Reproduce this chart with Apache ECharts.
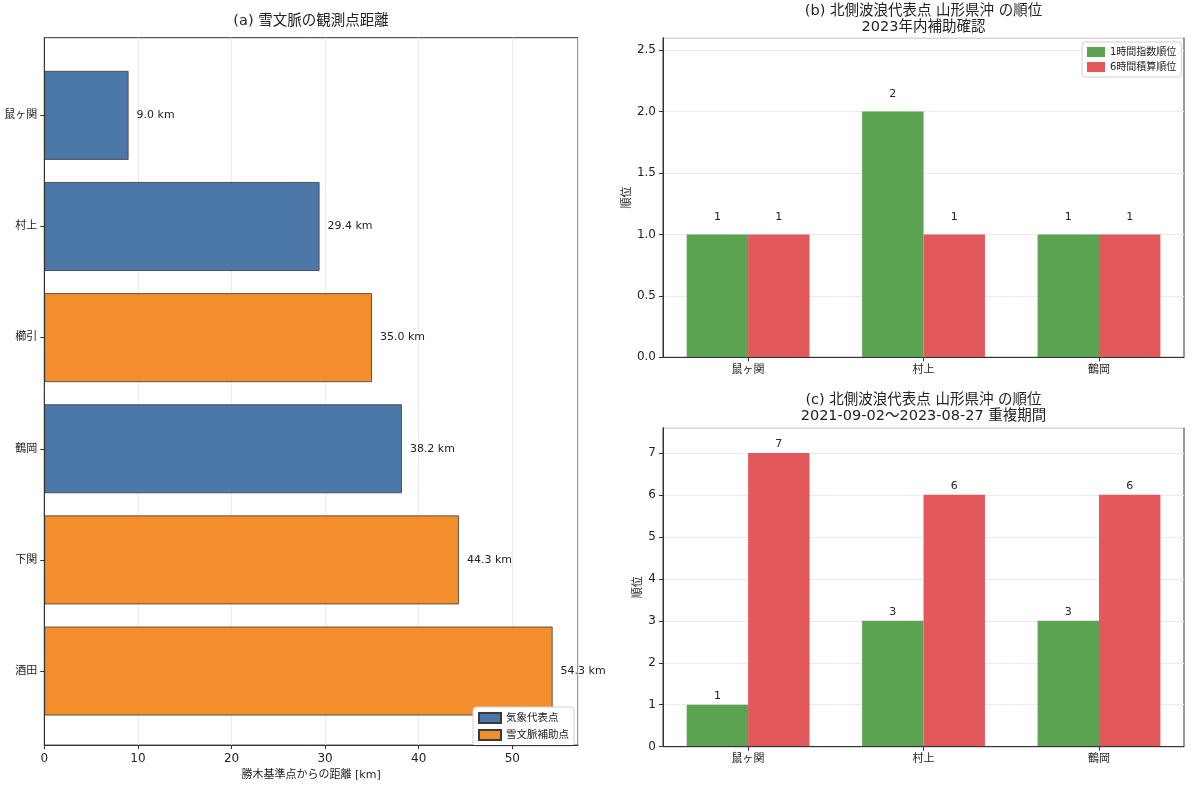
<!DOCTYPE html>
<html>
<head>
<meta charset="utf-8">
<script src="https://cdn.jsdelivr.net/npm/echarts@6/dist/echarts.min.js"></script>
<style>
  html, body { margin: 0; padding: 0; background: #fff; }
  #main { width: 1200px; height: 786px; }
</style>
</head>
<body>
<div id="main"></div>
<script>
// (a) 観測点距離
var stations = ['鼠ヶ関', '村上', '櫛引', '鶴岡', '下関', '酒田'];
var distances = [9.0, 29.4, 35.0, 38.2, 44.3, 54.3];
var stationType = ['気象代表点', '気象代表点', '雪文脈補助点', '気象代表点', '雪文脈補助点', '雪文脈補助点'];
var typeNames = ['気象代表点', '雪文脈補助点'];

// (b)(c) 順位
var rankStations = ['鼠ヶ関', '村上', '鶴岡'];
var rankNames = ['1時間指数順位', '6時間積算順位'];
var rank1hB = [1, 2, 1];
var rank6hB = [1, 1, 1];
var rank1hC = [1, 3, 3];
var rank6hC = [7, 6, 6];

var FONT = "'DejaVu Sans', 'Noto Sans CJK JP', sans-serif";
var AXIS = '#333';
var GRIDLINE = '#ebebeb';
var TEXT = '#222';
var typeColors = { '気象代表点': '#4c78a8', '雪文脈補助点': '#f28f2c' };
var rankColors = ['#5ba251', '#e2585b'];

var myChart = echarts.init(document.getElementById('main'));

// frame grids (box, ticks, grid lines) + inner grids (bars on category axes)
var grids = [
  { left: 44.3, top: 37.7, width: 533.7, height: 709, show: true, borderColor: AXIS, borderWidth: 1 },
  { left: 44.3, top: 59.8, width: 533.7, height: 666.8 },
  { left: 663, top: 37.7, width: 521, height: 319.6, show: true, borderColor: AXIS, borderWidth: 1 },
  { left: 660.4, top: 37.7, width: 526.3, height: 319.6 },
  { left: 663, top: 427.7, width: 521, height: 319, show: true, borderColor: AXIS, borderWidth: 1 },
  { left: 660.4, top: 427.7, width: 526.3, height: 319 }
];

function frameLine() {
  return { show: true, lineStyle: { color: AXIS, width: 1 } };
}
function hiddenValue(grid, min, max) {
  return { type: 'value', gridIndex: grid, min: min, max: max, show: false };
}
// grid lines only, kept below the bars
function splitOnly(grid, pos, max, interval) {
  return {
    type: 'value', gridIndex: grid, position: pos, min: 0, max: max, interval: interval,
    axisLine: { show: false }, axisTick: { show: false }, axisLabel: { show: false },
    splitLine: { show: true, lineStyle: { color: GRIDLINE, width: 1 } }
  };
}
function rankValueAxis(grid, max, interval, digits, gap) {
  return {
    type: 'value', gridIndex: grid, min: 0, max: max, interval: interval, z: 10,
    name: '順位', nameLocation: 'middle', nameRotate: 90, nameGap: gap,
    nameTextStyle: { fontSize: 11, color: TEXT },
    axisLine: frameLine(),
    axisTick: { show: true, length: 4, lineStyle: { color: AXIS } },
    axisLabel: { fontSize: 12, color: TEXT, margin: 7, showMaxLabel: false,
      formatter: function (v) { return v.toFixed(digits); } },
    splitLine: { show: false }
  };
}
function rankCategoryAxis(grid) {
  return {
    type: 'category', gridIndex: grid, data: rankStations,
    axisLine: { show: false },
    axisTick: { show: true, alignWithLabel: true, length: 4, lineStyle: { color: AXIS } },
    axisLabel: { fontSize: 11, color: TEXT, margin: 7 }
  };
}
function frameX(grid) {
  return {
    type: 'value', gridIndex: grid, min: 0, max: 1, z: 10,
    axisLine: frameLine(), axisTick: { show: false }, axisLabel: { show: false }, splitLine: { show: false }
  };
}
function rankSeries(name, data, color, axisIdx, dist) {
  return {
    name: name, type: 'bar', xAxisIndex: axisIdx, yAxisIndex: axisIdx,
    data: data, barWidth: 61.4, barGap: '0%',
    itemStyle: { color: color },
    label: { show: true, position: 'top', distance: dist, fontSize: 11, color: TEXT }
  };
}

var seriesA = typeNames.map(function (t) {
  return {
    name: t, type: 'bar', xAxisIndex: 1, yAxisIndex: 1,
    data: distances.map(function (d, i) { return stationType[i] === t ? d : '-'; }),
    barWidth: 88.9, barGap: '-100%',
    itemStyle: { color: typeColors[t], borderColor: '#3a3a3a', borderWidth: 0.8 },
    label: {
      show: true, position: 'right', distance: 8, fontSize: 11, color: TEXT,
      formatter: function (p) { return p.value.toFixed(1) + ' km'; }
    }
  };
});

var legendBase = {
  orient: 'vertical', itemWidth: 18, itemHeight: 10, itemGap: 5, icon: 'rect',
  textStyle: { fontSize: 10, color: TEXT },
  backgroundColor: '#fff', borderColor: '#d0d0d0', borderWidth: 1, borderRadius: 3, padding: [5, 5]
};
var titleStyle = { fontSize: 14.5, fontWeight: 'normal', color: TEXT, lineHeight: 16 };

myChart.setOption({
  animation: false,
  textStyle: { fontFamily: FONT },
  title: [
    { text: '(a) 雪文脈の観測点距離', left: 311, top: 13, textAlign: 'center', padding: 0,
      textStyle: titleStyle },
    { text: '(b) 北側波浪代表点 山形県沖 の順位\n2023年内補助確認', left: 923.5, top: 3, textAlign: 'center', padding: 0,
      textStyle: titleStyle },
    { text: '(c) 北側波浪代表点 山形県沖 の順位\n2021-09-02～2023-08-27 重複期間', left: 923.5, top: 392.5, textAlign: 'center', padding: 0,
      textStyle: titleStyle }
  ],
  legend: [
    Object.assign({}, legendBase, { data: typeNames, left: 473, top: 707, itemWidth: 22,
      textStyle: { fontSize: 10.5, color: TEXT } }),
    Object.assign({}, legendBase, { data: rankNames, left: 1082, top: 42 })
  ],
  grid: grids,
  xAxis: [
    {
      type: 'value', gridIndex: 0, min: 0, max: 57.015, interval: 10, z: 10,
      name: '勝木基準点からの距離 [km]', nameLocation: 'middle', nameGap: 23,
      nameTextStyle: { fontSize: 11, color: TEXT },
      axisLine: frameLine(),
      axisTick: { show: true, length: 4, lineStyle: { color: AXIS } },
      axisLabel: { fontSize: 12, color: TEXT, margin: 8, showMaxLabel: false },
      splitLine: { show: false }
    },
    hiddenValue(1, 0, 57.015),
    frameX(2),
    rankCategoryAxis(3),
    frameX(4),
    rankCategoryAxis(5),
    splitOnly(0, 'top', 57.015, 10)
  ],
  yAxis: [
    {
      type: 'value', gridIndex: 0, min: 0, max: 1, z: 10,
      axisLine: frameLine(), axisTick: { show: false }, axisLabel: { show: false }, splitLine: { show: false }
    },
    {
      type: 'category', gridIndex: 1, data: stations, inverse: true,
      axisLine: { show: false },
      axisTick: { show: true, alignWithLabel: true, length: 4, lineStyle: { color: AXIS } },
      axisLabel: { fontSize: 11, color: TEXT, margin: 7 }
    },
    rankValueAxis(2, 2.6, 0.5, 1, 30),
    hiddenValue(3, 0, 2.6),
    rankValueAxis(4, 7.6, 1, 0, 19),
    hiddenValue(5, 0, 7.6),
    splitOnly(2, 'right', 2.6, 0.5),
    splitOnly(4, 'right', 7.6, 1)
  ],
  series: seriesA.concat([
    rankSeries(rankNames[0], rank1hB, rankColors[0], 3, 12),
    rankSeries(rankNames[1], rank6hB, rankColors[1], 3, 12),
    rankSeries(rankNames[0], rank1hC, rankColors[0], 5, 3),
    rankSeries(rankNames[1], rank6hC, rankColors[1], 5, 3)
  ])
});
</script>
</body>
</html>
